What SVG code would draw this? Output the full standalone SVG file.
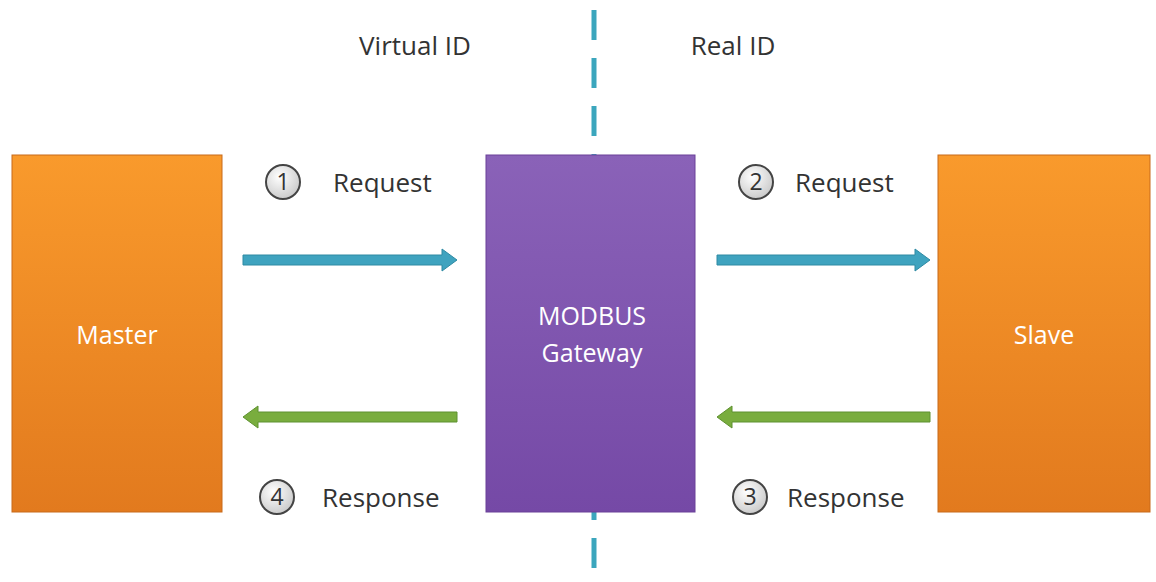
<svg xmlns="http://www.w3.org/2000/svg" width="1156" height="582" viewBox="0 0 1156 582">
<defs>
<linearGradient id="og" x1="0" y1="0" x2="0" y2="1"><stop offset="0" stop-color="#f99a2c"/><stop offset="1" stop-color="#e27a1e"/></linearGradient>
<linearGradient id="pg" x1="0" y1="0" x2="0" y2="1"><stop offset="0" stop-color="#8a62b8"/><stop offset="1" stop-color="#7549a6"/></linearGradient>
<radialGradient id="cg" cx="0.4" cy="0.35" r="0.7"><stop offset="0" stop-color="#ffffff"/><stop offset="1" stop-color="#c8c8c8"/></radialGradient>
</defs>
<style>
.t{font-family:"Open Sans","Liberation Sans",sans-serif;font-size:26px;fill:#333}
.w{font-family:"Open Sans","Liberation Sans",sans-serif;font-size:25px;fill:#fff;text-anchor:middle}
.c{fill:url(#cg);stroke:#444;stroke-width:2}
.n{font-family:"Open Sans","Liberation Sans",sans-serif;font-size:23px;fill:#333;text-anchor:middle}
.blue{fill:#3fa3bf;stroke:#2f8aa3;stroke-width:1}
.green{fill:#79ad3e;stroke:#5f9130;stroke-width:1}
</style>
<line x1="594" y1="10" x2="594" y2="580" stroke="#3ba6bd" stroke-width="5" stroke-dasharray="30,18"/>
<text class="t" x="415" y="55" text-anchor="middle">Virtual ID</text>
<text class="t" x="733" y="55" text-anchor="middle">Real ID</text>
<g id="master"><rect x="12" y="155" width="210" height="357" fill="url(#og)" stroke="#c86a1a" stroke-width="1"/><text class="w" x="117" y="344">Master</text></g>
<g id="gateway"><rect x="486" y="155" width="209" height="357" fill="url(#pg)" stroke="#6a4098" stroke-width="1"/><text class="w" x="592" y="325">MODBUS</text><text class="w" x="592" y="362">Gateway</text></g>
<g id="slave"><rect x="938" y="155" width="212" height="357" fill="url(#og)" stroke="#c86a1a" stroke-width="1"/><text class="w" x="1044" y="344">Slave</text></g>
<g id="connectors">
<polygon class="blue" points="243,255 442,255 442,249 457,260 442,271 442,265 243,265"/>
<polygon class="blue" points="717,255 915,255 915,249 930,260 915,271 915,265 717,265"/>
<polygon class="green" points="457,412 258,412 258,406 243,417 258,428 258,422 457,422"/>
<polygon class="green" points="930,412 732,412 732,406 717,417 732,428 732,422 930,422"/>
</g>
<g id="labels">
<circle class="c" cx="283" cy="182" r="17"/><text class="n" x="283" y="190">1</text><text class="t" x="333" y="192">Request</text>
<circle class="c" cx="756" cy="182" r="17"/><text class="n" x="756" y="190">2</text><text class="t" x="795" y="192">Request</text>
<circle class="c" cx="277" cy="497" r="17"/><text class="n" x="277" y="505">4</text><text class="t" x="322" y="507">Response</text>
<circle class="c" cx="750" cy="497" r="17"/><text class="n" x="750" y="505">3</text><text class="t" x="787" y="507">Response</text>
</g>
</svg>
